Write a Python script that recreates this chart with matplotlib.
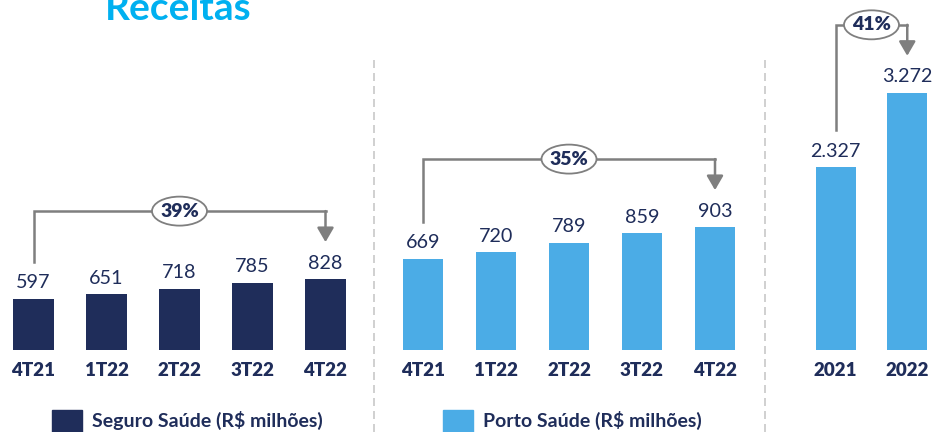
import numpy as np
import matplotlib.pyplot as plt
from matplotlib.patches import Rectangle, Ellipse
from matplotlib.lines import Line2D

plt.rcParams['font.family'] = ['Lato', 'DejaVu Sans']

# dados
quarters = ['4T21', '1T22', '2T22', '3T22', '4T22']
seguro_saude = [597, 651, 718, 785, 828]
porto_saude = [669, 720, 789, 859, 903]
years = ['2021', '2022']
porto_ano = [2327, 3272]
porto_ano_labels = ['2.327', '3.272']
growth = ['39%', '35%', '41%']

navy = '#1F2D5A'
blue = '#4BACE6'
gray = '#7F7F7F'

W, H = 943, 432
fig = plt.figure(figsize=(W/100, H/100), dpi=100)

def make_ax(x0, w, ppu, n):
    ax = fig.add_axes([x0/W, 82/H, w/W, 350/H])
    ax.set_xlim(-0.5, n-0.5)
    ax.set_ylim(0, 350/ppu)
    ax.axis('off')
    return ax

def draw_bars(ax, cats, vals, labels, color):
    ax.bar(range(len(vals)), vals, width=0.56, color=color)
    for i, v in enumerate(vals):
        ax.annotate(labels[i], xy=(i, v), xytext=(0, 11.5), textcoords='offset points',
                    ha='center', va='center', fontsize=14.2, color=navy)
        ax.annotate(cats[i], xy=(i, 0), xytext=(0, -14.5), textcoords='offset points',
                    ha='center', va='center', fontsize=13.5, fontweight='heavy', color=navy)

def bracket(ax, vals, txt, ppu, xppu):
    i0, i1 = 0, len(vals)-1
    v0, v1 = vals[i0], vals[i1]
    ytop = v1 + 68/ppu
    ax.plot([i0, i0, i1], [v0 + 37/ppu, ytop, ytop], color=gray, lw=1.8,
            clip_on=False, solid_joinstyle='miter', solid_capstyle='projecting')
    ax.annotate('', xy=(i1, v1 + 37/ppu), xytext=(i1, ytop),
                arrowprops=dict(arrowstyle='-|>,head_width=0.25,head_length=0.43',
                                color=gray, lw=1.8, mutation_scale=20, shrinkA=0, shrinkB=0),
                annotation_clip=False)
    xm = (i0 + i1) / 2
    ax.add_patch(Ellipse((xm, ytop), 55/xppu, 29/ppu, fc='white', ec=gray, lw=1.3,
                         zorder=5, clip_on=False))
    ax.text(xm, ytop, txt, ha='center', va='center', fontsize=14, fontweight='heavy',
            color=navy, zorder=6)

ppu1, ppu2, ppu3 = 0.0856, 0.1361, 0.0786

ax1 = make_ax(-3, 365, ppu1, 5)
draw_bars(ax1, quarters, seguro_saude, [str(v) for v in seguro_saude], navy)
bracket(ax1, seguro_saude, growth[0], ppu1, 73)

ax2 = make_ax(386.5, 365, ppu2, 5)
draw_bars(ax2, quarters, porto_saude, [str(v) for v in porto_saude], blue)
bracket(ax2, porto_saude, growth[1], ppu2, 73)

ax3 = make_ax(800, 143, ppu3, 2)
draw_bars(ax3, years, porto_ano, porto_ano_labels, blue)
bracket(ax3, porto_ano, growth[2], ppu3, 71.5)

# separadores
for xs in [373.5, 765]:
    fig.add_artist(Line2D([xs/W, xs/W], [0, (H-58)/H], transform=fig.transFigure,
                          color='#C8C8C8', lw=1.2, ls=(0, (4.8, 3))))

# legendas
fig.add_artist(Rectangle((52/W, 0), 30/W, 22/H, transform=fig.transFigure, color=navy))
fig.text(92/W, 12/H, 'Seguro Saúde (R$ milhões)', fontsize=14, fontweight='bold',
         color=navy, va='center')
fig.add_artist(Rectangle((443/W, 0), 30/W, 22/H, transform=fig.transFigure, color=blue))
fig.text(483/W, 12/H, 'Porto Saúde (R$ milhões)', fontsize=14, fontweight='bold',
         color=navy, va='center')

fig.text(105/W, 412/H, 'Receitas', fontsize=28, fontweight='bold', color='#00B0F0',
         va='baseline')

fig.savefig('out.png', dpi=100)
